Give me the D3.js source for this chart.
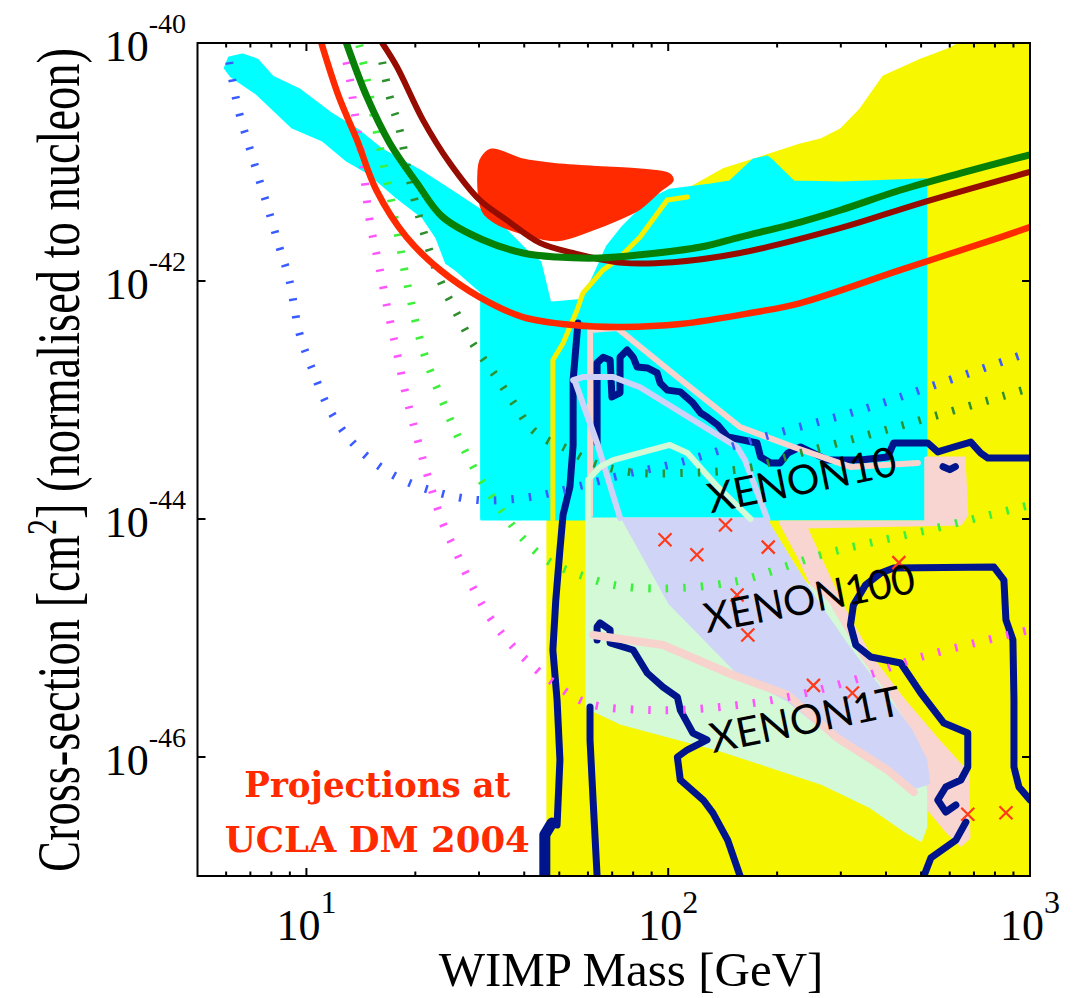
<!DOCTYPE html>
<html>
<head>
<meta charset="utf-8">
<script src="https://cdn.jsdelivr.net/npm/d3@7/dist/d3.min.js"></script>
<style>
  body { margin: 0; background: #fff; }
  svg { display: block; }
</style>
</head>
<body>
<svg id="chart" width="1083" height="998"></svg>
<script>
// ---- axes ----
const massDomain = [5, 1000];
const sigmaDomain = [1e-47, 1e-40];
const massMajorTicks = [10, 100, 1000];
const massMajorExponents = ["1", "2", "3"];
const massMinorTicks = [6, 7, 8, 9, 20, 30, 40, 50, 60, 70, 80, 90, 200, 300, 400, 500, 600, 700, 800, 900];
const sigmaTicks = [1e-46, 1e-44, 1e-42, 1e-40];
const sigmaExponents = ["-46", "-44", "-42", "-40"];

// ---- filled regions: [mass GeV, cross-section cm^2] ----
const yellowRegion = [
  [46.5, 1e-47], [46.5, 1e-44], [48.0, 2.17e-43], [51.2, 3.0e-43], [56.0, 5.7e-43], [58.1, 7.9e-43],
  [66.1, 1.24e-42], [72.2, 1.5e-42], [83.6, 2.34e-42], [99.4, 4.8e-42], [115, 6.0e-42], [142, 8.6e-42],
  [232, 1.39e-41], [264, 1.53e-41], [300, 1.86e-41], [340, 2.74e-41], [394, 5.2e-41], [499, 7.19e-41],
  [593, 8.73e-41], [644, 1e-40], [1000, 1e-40], [1000, 1e-47]
];
const cyanRegion = [
  [5.97, 6.16e-41], [6.12, 7.48e-41], [6.65, 7.93e-41], [7.31, 7.19e-41], [8.05, 5.18e-41], [9.56, 4.03e-41],
  [11.6, 2.58e-41], [13.8, 1.86e-41], [16.2, 1.26e-41], [21.0, 8.1e-42], [24.9, 5.8e-42], [30.1, 3.95e-42],
  [35.4, 2.7e-42], [41.5, 1.66e-42], [44.2, 1.44e-42], [47.1, 6.5e-43], [58.1, 6.9e-43], [63.6, 1.24e-42],
  [67.8, 1.93e-42], [75.0, 2.84e-42], [89.1, 4.8e-42], [101, 5.8e-42], [131, 6.41e-42], [148, 6.79e-42],
  [172, 1.04e-41], [188, 1.10e-41], [195, 1.0e-41], [222, 6.79e-42], [300, 6.66e-42], [515, 7.1e-42],
  [515, 1e-44], [30.5, 1e-44], [30.5, 8.1e-43], [26.0, 1.24e-42], [24.4, 1.42e-42], [22.9, 2.34e-42],
  [21.0, 3.45e-42], [17.8, 5.08e-42], [14.9, 8.08e-42], [12.9, 1.04e-41], [11.1, 1.53e-41], [9.15, 1.96e-41],
  [7.27, 3.8e-41], [6.20, 5.28e-41]
];
const signalRegion = [
  [30.1, 9.44e-42], [30.7, 1.10e-41], [32.5, 1.26e-41], [39.7, 1.04e-41], [50.2, 9.44e-42], [60.8, 9.08e-42],
  [83.6, 8.57e-42], [100, 7.93e-42], [102.6, 7.06e-42], [95.0, 5.8e-42], [83.6, 4.11e-42], [73.6, 3.38e-42],
  [60.8, 2.68e-42], [49.3, 2.22e-42], [39.7, 2.53e-42], [33.6, 3.07e-42], [30.7, 3.95e-42]
];
const pinkRegion = [
  [515, 3.25e-44], [657, 3.25e-44], [669, 1.08e-44], [644, 9.08e-45], [240, 8.57e-45], [300, 1.96e-45],
  [363, 6.92e-46], [448, 3.0e-46], [556, 1.39e-46], [673, 7.33e-47], [678, 2.09e-47], [644, 1.82e-47],
  [585, 2.43e-47], [499, 4.35e-47], [439, 6.41e-47], [232, 4.52e-45], [204, 9.44e-45], [515, 9.44e-45]
];
const greenRegion = [
  [59.6, 1e-44], [169, 1e-44], [204, 4.52e-45], [276, 1.96e-45], [340, 6.53e-46], [412, 3.01e-46],
  [483, 1.39e-46], [515, 5.28e-47], [515, 2.58e-47], [499, 2.0e-47], [448, 2.43e-47], [363, 3.8e-47],
  [264, 6.05e-47], [139, 1.15e-46], [73.6, 1.93e-46], [59.6, 2.63e-46]
];
const lavenderRegion = [
  [75.0, 1e-44], [186, 1e-44], [218, 4.52e-45], [259, 1.96e-45], [319, 7.93e-46], [387, 3.66e-46],
  [468, 1.69e-46], [515, 9.44e-47], [525, 6.05e-47], [484, 5.6e-47], [404, 7.77e-47], [294, 1.39e-46],
  [214, 3.0e-46], [158, 4.89e-46], [101, 1.96e-45]
];

// ---- thin outline curves ----
const yellowEdge = [
  [48.0, 1e-44], [48.0, 2.17e-43], [51.2, 3.0e-43], [56.0, 5.7e-43], [58.1, 7.9e-43], [66.1, 1.24e-42],
  [72.2, 1.5e-42], [83.6, 2.34e-42], [99.4, 4.8e-42], [113, 5.08e-42]
];
const pinkEdgeUpper = [
  [60.8, 1.08e-44], [60.8, 3.87e-43], [72.2, 4.03e-43], [106, 1.56e-43], [158, 5.93e-44], [222, 4.03e-44],
  [319, 2.74e-44], [490, 2.96e-44]
];
const pinkEdgeLower = [
  [62.0, 1.06e-45], [96.8, 8.73e-46], [151, 4.89e-46], [214, 3.32e-46], [294, 1.44e-46], [404, 7.77e-47], [477, 5.08e-47]
];
const lavenderEdgeA = [
  [54.6, 1.47e-43], [58.1, 1.56e-43], [70.4, 1.56e-43], [83.6, 1.28e-43], [155, 4.03e-44], [163, 3.13e-44], [188, 1e-44]
];
const lavenderEdgeB = [[55.3, 1.42e-43], [63.6, 4.35e-44], [73.6, 1.02e-44]];
const greenEdge = [
  [60.0, 1e-44], [60.0, 2.13e-44], [64.8, 2.74e-44], [70.4, 3.13e-44], [101, 4.19e-44], [113, 3.58e-44],
  [137, 1.86e-44], [169, 1e-44]
];

// ---- navy contours ----
const navyContours = [
  [[56.3, 4.43e-43], [54.6, 1.47e-43], [54.6, 4.19e-44], [53.5, 1.86e-44], [51.2, 1.08e-44], [50.2, 5.49e-45],
   [48.9, 2.09e-45], [48.0, 7.93e-46], [49.3, 3.0e-46], [50.2, 9.44e-47], [49.3, 2.68e-47]],
  [[63.6, 4.35e-44], [63.6, 2.05e-43], [66.1, 2.29e-43], [69.1, 2.17e-43], [69.9, 1.06e-43], [73.6, 1.15e-43],
   [73.6, 2.29e-43], [77.0, 2.63e-43], [80.0, 2.29e-43], [82.1, 1.89e-43], [87.5, 1.86e-43], [93.2, 1.69e-43],
   [95.0, 1.39e-43], [99.4, 1.21e-43], [108, 1.17e-43], [117, 9.44e-44], [123, 7.77e-44], [128, 7.19e-44],
   [137, 6.16e-44], [146, 4.89e-44], [161, 4.61e-44], [176, 4.35e-44], [180, 3.32e-44], [192, 2.96e-44],
   [204, 2.96e-44], [214, 3.58e-44], [232, 4.03e-44], [252, 3.58e-44], [276, 3.13e-44], [340, 3.13e-44],
   [404, 3.32e-44], [420, 4.35e-44], [459, 4.35e-44], [522, 4.35e-44], [556, 3.66e-44], [616, 4.03e-44],
   [686, 4.43e-44], [731, 3.58e-44], [765, 3.25e-44], [1000, 3.25e-44]],
  [[575, 2.75e-44], [600, 2.6e-44], [622, 2.75e-44]],
  [[63.6, 9.62e-46], [63.6, 1.24e-45], [64.8, 1.34e-45], [69.1, 1.17e-45], [69.1, 9.08e-46], [80.0, 7.93e-46],
   [87.5, 5.08e-46], [96.8, 3.87e-46], [106, 3.19e-46], [108, 2.48e-46], [117, 1.59e-46], [128, 1.39e-46],
   [113, 1.15e-46], [106, 1e-46], [108, 6.41e-47], [125, 4.35e-47], [133, 3.38e-47], [146, 2.0e-47], [158, 1e-47]],
  [[60.8, 2.63e-46], [60.8, 1.39e-46], [62.0, 4.35e-47], [63.6, 1e-47]],
  [[624, 3.95e-47], [585, 3.45e-47], [556, 4.35e-47], [585, 5.6e-47], [644, 6.41e-47], [673, 8.24e-47],
   [673, 1.59e-46], [578, 1.93e-46], [499, 3.45e-46], [439, 6.16e-46], [363, 6.92e-46], [330, 8.73e-46],
   [319, 1.28e-45], [325, 1.89e-45], [351, 2.79e-45], [387, 3.52e-45], [420, 3.87e-45], [795, 3.95e-45],
   [847, 3.07e-45], [858, 1.42e-45], [897, 9.62e-46], [903, 3.0e-46], [903, 8.24e-47], [932, 5.6e-47], [1000, 4.35e-47]],
  [[665, 2.84e-47], [624, 2.0e-47], [532, 1.42e-47], [509, 1e-47]]
];
const navyBlob = [[45.6, 1e-47], [45.6, 2.22e-47], [47.7, 2.79e-47]];

// ---- projected sensitivity curves (dotted) ----
const blueProjection = [
  [6.12, 6.92e-41], [6.24, 4.89e-41], [6.52, 2.58e-41], [6.95, 1.34e-41], [7.41, 7.06e-42], [7.90, 3.73e-42],
  [8.42, 1.93e-42], [8.97, 1.02e-42], [9.56, 3.66e-43], [10.4, 1.78e-43], [11.6, 8.24e-44], [13.6, 4.19e-44],
  [17.0, 2.43e-44], [21.9, 1.75e-44], [30.1, 1.44e-44], [41.5, 1.53e-44], [51.2, 1.75e-44], [78.5, 2.43e-44],
  [108, 3.0e-44], [183, 4.89e-44], [340, 8.24e-44], [567, 1.39e-43], [1000, 2.53e-43]
];
const darkGreenProjection = [
  [16.2, 6.92e-41], [17.0, 3.52e-41], [18.1, 1.86e-41], [19.3, 7.06e-42], [21.0, 2.68e-42], [23.4, 1.02e-42],
  [26.0, 5.38e-43], [28.8, 3.0e-43], [33.2, 1.62e-43], [37.7, 9.08e-44], [41.5, 5.93e-44], [46.2, 4.61e-44],
  [51.2, 4.03e-44], [62.0, 2.96e-44], [78.5, 2.48e-44], [108, 2.43e-44], [166, 2.68e-44], [222, 3.45e-44],
  [340, 4.89e-44], [522, 7.06e-44], [1000, 1.26e-43]
];
const lightGreenProjection = [
  [14.0, 9.62e-41], [14.7, 4.89e-41], [15.6, 1.86e-41], [16.7, 7.06e-42], [17.8, 2.68e-42], [18.9, 1.02e-42],
  [21.0, 2.63e-43], [23.4, 1.10e-43], [26.5, 4.61e-44], [30.1, 2.22e-44], [34.2, 1.24e-44], [38.9, 7.33e-45],
  [46.2, 4.52e-45], [57.1, 3.38e-45], [77.0, 2.68e-45], [146, 2.90e-45], [276, 5.18e-45], [522, 8.08e-45],
  [1000, 1.31e-44]
];
const magentaProjection = [
  [12.9, 6.92e-41], [13.2, 4.89e-41], [13.6, 2.58e-41], [14.3, 9.8e-42], [14.9, 3.45e-42], [15.9, 1.31e-42],
  [17.0, 4.70e-43], [17.8, 2.48e-43], [18.7, 1.21e-43], [20.3, 4.61e-44], [21.6, 2.34e-44], [23.8, 9.26e-45],
  [26.0, 5.18e-45], [28.8, 2.68e-45], [32.1, 1.50e-45], [36.5, 9.08e-46], [43.4, 5.38e-46], [47.1, 4.43e-46],
  [59.6, 2.84e-46], [90.9, 2.48e-46], [139, 2.63e-46], [214, 3.19e-46], [325, 4.43e-46], [499, 6.92e-46],
  [1000, 1.17e-45]
];

// ---- experimental limits (solid) ----
const redLimit = [
  [11.0, 1e-40], [12.3, 3.52e-41], [13.8, 1.53e-41], [15.6, 5.82e-42], [18.9, 2.34e-42], [23.4, 1.24e-42],
  [30.1, 7.33e-43], [39.7, 4.98e-43], [54.6, 4.27e-43], [75.0, 4.11e-43], [108, 4.35e-43], [169, 5.38e-43],
  [232, 6.53e-43], [439, 1.24e-42], [831, 2.34e-42], [1000, 2.84e-42]
];
const greenLimit = [
  [12.9, 1e-40], [14.7, 3.52e-41], [17.0, 1.44e-41], [20.2, 6.66e-42], [23.8, 3.45e-42], [30.7, 2.22e-42],
  [39.7, 1.72e-42], [49.3, 1.59e-42], [64.8, 1.56e-42], [83.6, 1.66e-42], [123, 1.93e-42], [158, 2.34e-42],
  [232, 3.13e-42], [300, 3.95e-42], [439, 5.82e-42], [644, 8.08e-42], [1000, 1.15e-41]
];
const darkRedLimit = [
  [16.2, 1e-40], [17.8, 6.29e-41], [21.0, 2.25e-41], [24.9, 9.8e-42], [30.1, 4.8e-42], [35.8, 3.25e-42],
  [44.2, 2.09e-42], [54.6, 1.72e-42], [75.0, 1.42e-42], [103, 1.44e-42], [158, 1.72e-42], [300, 2.79e-42],
  [499, 4.52e-42], [1000, 8.24e-42]
];

// ---- model points ----
const modelPoints = [
  [98, 6.7e-45], [120, 5.0e-45], [144, 8.9e-45], [189, 5.8e-45], [434, 4.3e-45], [155, 2.3e-45],
  [166, 1.06e-45], [252, 4.0e-46], [323, 3.45e-46], [673, 3.3e-47], [858, 3.4e-47]
];

// ---- experiment labels: [text, mass, sigma, angle, length] ----
const experimentLabels = [
  ["XENON10", 131, 1.12e-44, -11.5, 192],
  ["XENON100", 128, 1.10e-45, -11, 214],
  ["XENON1T", 133, 1.08e-46, -11.5, 194]
];
const noteLines = [["Projections at", 15.7, 4.61e-47, 266], ["UCLA DM 2004", 15.7, 1.59e-47, 305]];

// ---- drawing ----
const svg = d3.select("#chart");
const plotLeft = 197.5, plotRight = 1030, plotTop = 43, plotBottom = 876;
const x = d3.scaleLog().domain(massDomain).range([plotLeft, plotRight]);
const y = d3.scaleLog().domain(sigmaDomain).range([plotBottom, plotTop]);

svg.append("rect").attr("width", 1083).attr("height", 998).attr("fill", "#fff");

svg.append("defs").append("clipPath").attr("id", "plot-clip")
  .append("rect").attr("x", plotLeft).attr("y", plotTop)
  .attr("width", plotRight - plotLeft).attr("height", plotBottom - plotTop);

const plot = svg.append("g").attr("clip-path", "url(#plot-clip)");

const linear = d3.line().x(d => x(d[0])).y(d => y(d[1]));
const smooth = d3.line().x(d => x(d[0])).y(d => y(d[1])).curve(d3.curveCatmullRom.alpha(0.5));
const blob = d3.line().x(d => x(d[0])).y(d => y(d[1])).curve(d3.curveCatmullRomClosed.alpha(0.5));

function fillRegion(data, color, gen = linear) {
  plot.append("path").datum(data)
    .attr("d", d => gen(d) + (gen === linear ? "Z" : ""))
    .attr("fill", color).attr("stroke", color).attr("stroke-width", 3)
    .attr("stroke-linejoin", "round");
}
function strokeCurve(data, color, width, gen = linear, dash = null) {
  const p = plot.append("path").datum(data).attr("d", gen)
    .attr("fill", "none").attr("stroke", color).attr("stroke-width", width)
    .attr("stroke-linejoin", "round").attr("stroke-linecap", dash ? "butt" : "round");
  if (dash) p.attr("stroke-dasharray", dash);
}

fillRegion(yellowRegion, "#f7f700");
fillRegion(cyanRegion, "#00ffff");
fillRegion(signalRegion, "#ff2a00", blob);
fillRegion(pinkRegion, "#f8d5d0");
fillRegion(greenRegion, "#d3f9d6");
fillRegion(lavenderRegion, "#d0d5f8");

navyContours.forEach(c => strokeCurve(c, "#00158c", 7));
strokeCurve(navyBlob, "#00158c", 11);

strokeCurve(yellowEdge, "#f5f000", 5);
strokeCurve(pinkEdgeUpper, "#f8d2cd", 6);
strokeCurve(pinkEdgeLower, "#f8d2cd", 8);
strokeCurve(lavenderEdgeA, "#cfd2f7", 6);
strokeCurve(lavenderEdgeB, "#cfd2f7", 6);
strokeCurve(greenEdge, "#d3f9d6", 6);

const dotDash = "2.5 15";
strokeCurve(blueProjection, "#3a5cff", 8, smooth, dotDash);
strokeCurve(darkGreenProjection, "#2e8f2e", 8, smooth, dotDash);
strokeCurve(lightGreenProjection, "#3cf03c", 8, smooth, dotDash);
strokeCurve(magentaProjection, "#ff55ff", 8, smooth, dotDash);

strokeCurve(darkRedLimit, "#960c00", 6, smooth);
strokeCurve(greenLimit, "#068006", 7, smooth);
strokeCurve(redLimit, "#ff2a00", 6.5, smooth);

const s = 6.5;
plot.append("g").selectAll("path").data(modelPoints).join("path")
  .attr("d", d => {
    const cx = x(d[0]), cy = y(d[1]);
    return `M${cx - s},${cy - s}L${cx + s},${cy + s}M${cx - s},${cy + s}L${cx + s},${cy - s}`;
  })
  .attr("stroke", "#ff3a1a").attr("stroke-width", 2.2).attr("fill", "none");

plot.append("g").selectAll("text").data(experimentLabels).join("text")
  .attr("transform", d => `translate(${x(d[1])},${y(d[2])}) rotate(${d[3]})`)
  .attr("textLength", d => d[4]).attr("lengthAdjust", "spacingAndGlyphs")
  .attr("font-family", "Lato, 'Open Sans', sans-serif").attr("font-size", 41)
  .attr("fill", "#000").text(d => d[0]);

svg.append("g").selectAll("text").data(noteLines).join("text")
  .attr("x", d => x(d[1])).attr("y", d => y(d[2]))
  .attr("text-anchor", "middle").attr("textLength", d => d[3]).attr("lengthAdjust", "spacingAndGlyphs")
  .attr("font-family", "'DejaVu Serif', serif").attr("font-weight", "bold").attr("font-size", 36)
  .attr("fill", "#ff2a00").text(d => d[0]);

// frame and ticks
const axes = svg.append("g").attr("stroke", "#000").attr("stroke-width", 2);
axes.append("rect").attr("x", plotLeft).attr("y", plotTop)
  .attr("width", plotRight - plotLeft).attr("height", plotBottom - plotTop).attr("fill", "none");
massMajorTicks.forEach(v => {
  axes.append("line").attr("x1", x(v)).attr("x2", x(v)).attr("y1", plotBottom).attr("y2", plotBottom - 8);
  axes.append("line").attr("x1", x(v)).attr("x2", x(v)).attr("y1", plotTop).attr("y2", plotTop + 8);
});
massMinorTicks.forEach(v => {
  axes.append("line").attr("x1", x(v)).attr("x2", x(v)).attr("y1", plotBottom).attr("y2", plotBottom - 4.5);
  axes.append("line").attr("x1", x(v)).attr("x2", x(v)).attr("y1", plotTop).attr("y2", plotTop + 4.5);
});
sigmaTicks.forEach(v => {
  axes.append("line").attr("x1", plotLeft).attr("x2", plotLeft + 8).attr("y1", y(v)).attr("y2", y(v));
  axes.append("line").attr("x1", plotRight).attr("x2", plotRight - 8).attr("y1", y(v)).attr("y2", y(v));
});

const serif = "'Liberation Serif', 'Times New Roman', serif";
const xl = svg.append("g").selectAll("text").data(massMajorTicks).join("text")
  .attr("x", d => x(d)).attr("y", 940).attr("text-anchor", "middle")
  .attr("font-family", serif).attr("font-size", 44).attr("fill", "#000");
xl.append("tspan").text("10");
xl.append("tspan").attr("dy", -27).attr("font-size", 32).text((d, i) => massMajorExponents[i]);

const yl = svg.append("g").selectAll("text").data(sigmaTicks).join("text")
  .attr("x", 186).attr("y", d => y(d) + 18).attr("text-anchor", "end")
  .attr("font-family", serif).attr("font-size", 44).attr("fill", "#000");
yl.append("tspan").text("10");
yl.append("tspan").attr("dy", -28).attr("font-size", 28).text((d, i) => sigmaExponents[i]);

svg.append("text").attr("x", 631).attr("y", 986).attr("text-anchor", "middle")
  .attr("font-family", serif).attr("font-size", 49).attr("fill", "#000")
  .text("WIMP Mass [GeV]");

const yt = svg.append("text").attr("transform", "translate(79,460) rotate(-90) scale(1,1.3)")
  .attr("text-anchor", "middle").attr("font-family", serif).attr("font-size", 46.5).attr("fill", "#000");
yt.append("tspan").text("Cross-section [cm");
yt.append("tspan").attr("dy", -18).attr("font-size", 32).text("2");
yt.append("tspan").attr("dy", 18).text("] (normalised to nucleon)");
</script>
</body>
</html>
